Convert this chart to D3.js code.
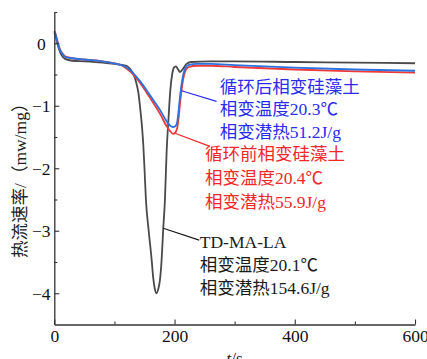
<!DOCTYPE html>
<html>
<head>
<meta charset="utf-8">
<script src="https://cdn.jsdelivr.net/npm/d3@7"></script>
<style>
body { margin: 0; background: #fff; }
svg { display: block; }
text { font-family: "Liberation Serif", "Noto Sans CJK SC", serif; }
</style>
</head>
<body>
<script>
// DSC curves (heat flow vs time)
var tBlack = [0, 2, 5, 8, 12, 18, 30, 50, 80, 100, 115, 120, 126, 132, 136, 140, 143, 146, 148, 150, 152.4, 157, 162, 164.5, 167, 170, 173, 175.7, 178.5, 181, 184, 186.8, 190, 193, 196, 199, 202, 206, 209, 214, 220, 228, 260, 300, 400, 500, 600];
var vBlack = [0.16, 0.12, 0.0, -0.1, -0.19, -0.25, -0.28, -0.29, -0.31, -0.33, -0.35, -0.36, -0.41, -0.5, -0.62, -0.8, -1.05, -1.35, -1.62, -2.0, -2.5, -3.0, -3.47, -3.75, -3.92, -4.0, -3.93, -3.79, -3.47, -3.0, -2.51, -1.75, -1.2, -0.75, -0.5, -0.39, -0.37, -0.42, -0.46, -0.41, -0.33, -0.3, -0.29, -0.29, -0.3, -0.31, -0.32];

var tRed = [0, 2, 5, 9.5, 14, 18, 30, 48, 80, 104, 115, 126, 143, 159, 176, 187, 193, 198, 202, 205, 207, 209, 213, 217, 224, 237, 260, 300, 400, 500, 600];
var vRed = [0.2, 0.15, 0.04, -0.1, -0.17, -0.21, -0.24, -0.26, -0.29, -0.33, -0.37, -0.45, -0.64, -0.87, -1.13, -1.33, -1.41, -1.45, -1.42, -1.33, -1.18, -0.98, -0.66, -0.47, -0.38, -0.36, -0.36, -0.38, -0.42, -0.45, -0.47];

var tBlue = [0, 2, 5, 9.5, 14, 18, 30, 48, 80, 104, 115, 126, 143, 159, 176, 187, 193, 197, 201, 204, 206, 208, 212, 216, 223, 237, 260, 300, 400, 500, 600];
var vBlue = [0.18, 0.14, 0.03, -0.11, -0.18, -0.22, -0.24, -0.26, -0.29, -0.33, -0.36, -0.43, -0.61, -0.83, -1.07, -1.25, -1.32, -1.34, -1.33, -1.28, -1.15, -0.96, -0.64, -0.45, -0.35, -0.33, -0.33, -0.35, -0.39, -0.42, -0.44];

var xMajor = [0, 200, 400, 600];
var xMinor = [100, 300, 500];
var yMajor = [0, -1, -2, -3, -4];
var yMinor = [0.5, -0.5, -1.5, -2.5, -3.5];

var blueText = ["循环后相变硅藻土", "相变温度20.3℃", "相变潜热51.2J/g"];
var redText = ["循环前相变硅藻土", "相变温度20.4℃", "相变潜热55.9J/g"];
var blackText = ["TD-MA-LA", "相变温度20.1℃", "相变潜热154.6J/g"];

var W = 427, H = 359;
var x = d3.scaleLinear().domain([0, 600]).range([54.3, 415]);
var y = d3.scaleLinear().domain([0.5, -4.5]).range([12, 324.5]);

var svg = d3.select("body").append("svg")
    .attr("width", W)
    .attr("height", H);

function series(ts, vs) {
    return ts.map(function(t, i){ return [t, vs[i]]; });
}

var line = d3.line()
    .x(function(d){ return x(d[0]); })
    .y(function(d){ return y(d[1]); })
    .curve(d3.curveMonotoneX);

var curves = [
    {data: series(tBlack, vBlack), color: "#4a4a4a"},
    {data: series(tRed, vRed), color: "#f03a3a"},
    {data: series(tBlue, vBlue), color: "#2a72e0"}
];
curves.forEach(function(c){
    svg.append("path")
        .datum(c.data)
        .attr("fill", "none")
        .attr("stroke", c.color)
        .attr("stroke-width", 1.8)
        .attr("d", line);
});

// axes, ticks pointing inward
var axisCol = "#333";
var gx = svg.append("g").attr("transform", "translate(0," + y(-4.5) + ")");
gx.call(d3.axisBottom(x).tickValues(xMajor).tickSize(-5).tickSizeOuter(0).tickPadding(14));
gx.append("g").call(d3.axisBottom(x).tickValues(xMinor).tickSize(-3).tickSizeOuter(0).tickFormat(""))
    .select(".domain").remove();

var gy = svg.append("g").attr("transform", "translate(" + x(0) + ",0)");
gy.call(d3.axisLeft(y).tickValues(yMajor).tickSize(-5).tickSizeOuter(0).tickFormat(d3.format("d")));
gy.append("g").call(d3.axisLeft(y).tickValues(yMinor).tickSize(-3).tickSizeOuter(0).tickFormat(""))
    .select(".domain").remove();

svg.selectAll(".domain").attr("stroke", axisCol).attr("stroke-width", 1.3);
svg.selectAll(".tick line").attr("stroke", axisCol).attr("stroke-width", 1.1);
svg.selectAll(".tick text")
    .attr("fill", "#111")
    .style("font-size", "17.5px")
    .style("font-family", "'Liberation Serif', serif");
gy.selectAll(".tick text").attr("text-anchor", "middle").attr("x", -13).attr("dy", "0.33em");
gx.selectAll(".tick text").attr("dy", "0.2em");

// axis titles
svg.append("text")
    .attr("transform", "translate(26," + ((y(0.5) + y(-4.5)) / 2 + 8) + ") rotate(-90)")
    .attr("text-anchor", "middle")
    .attr("fill", "#222")
    .style("font-size", "17.5px")
    .text("热流速率/（mw/mg）");

var xt = svg.append("text")
    .attr("x", x(300))
    .attr("y", 364)
    .attr("text-anchor", "middle")
    .attr("fill", "#222")
    .style("font-size", "17.5px");
xt.append("tspan").style("font-style", "italic").text("t");
xt.append("tspan").text("/s");

// annotations (data coords)
var notes = [
    {lines: blueText, color: "#2b2bf0", from: [211.7, -0.76], to: [269.9, -0.93], tx: 275.4, ty: -0.79, gap: 22.5},
    {lines: redText, color: "#f02828", from: [200.6, -1.44], to: [258.8, -1.65], tx: 250.5, ty: -1.87, gap: 23.8},
    {lines: blackText, color: "#1a1a1a", from: [181.2, -2.96], to: [241, -3.15], tx: 242, ty: -3.27, gap: 23.3}
];
notes.forEach(function(n){
    svg.append("line")
        .attr("x1", x(n.from[0])).attr("y1", y(n.from[1]))
        .attr("x2", x(n.to[0])).attr("y2", y(n.to[1]))
        .attr("stroke", n.color)
        .attr("stroke-width", 1.2);
    n.lines.forEach(function(s, i){
        svg.append("text")
            .attr("x", x(n.tx))
            .attr("y", y(n.ty) + i * n.gap)
            .attr("fill", n.color)
            .style("font-size", "17.5px")
            .text(s);
    });
});
</script>
</body>
</html>
